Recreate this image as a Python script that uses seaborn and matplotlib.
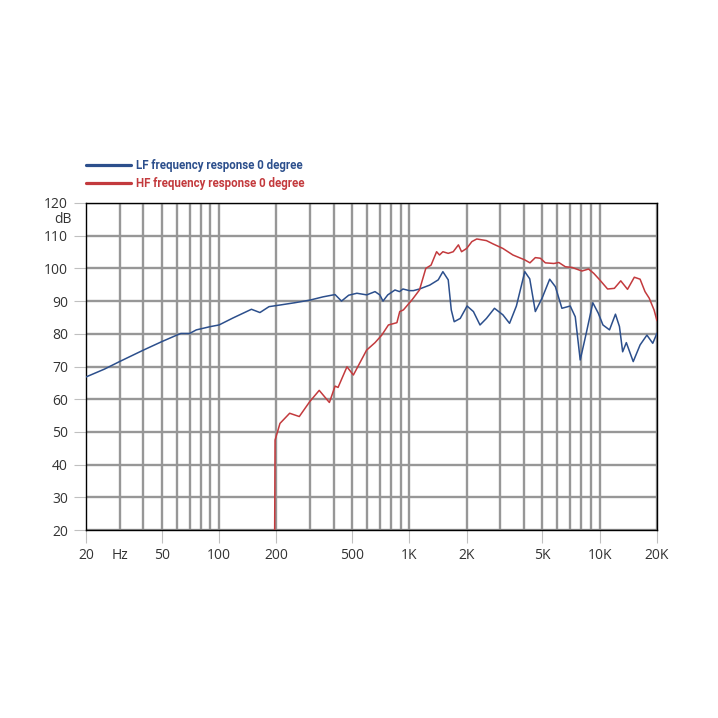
import numpy as np
import pandas as pd
import matplotlib
matplotlib.use("Agg")
import matplotlib.pyplot as plt
from matplotlib.lines import Line2D
import seaborn as sns

# LF curve (Hz, dB)
lf_freq = [20, 25, 30, 40, 50, 60, 63, 70, 76, 90, 100, 118, 148, 164, 183, 209, 250, 300,
           352, 407, 440, 480, 530, 597, 660, 699, 727, 770, 840, 888, 925, 1000, 1050, 1130,
           1280, 1418, 1500, 1600, 1660, 1720, 1850, 2010, 2170, 2350, 2540, 2800, 3100, 3360,
           3650, 4040, 4290, 4590, 4980, 5460, 5850, 6330, 7000, 7440, 7900, 8500, 9200, 9830,
           10400, 11260, 12100, 12700, 13200, 13800, 15000, 16300, 17700, 19000, 20000]
lf_db = [66.8, 69.2, 71.5, 75.0, 77.6, 79.6, 80.1, 80.1, 81.2, 82.2, 82.7, 84.8, 87.5, 86.5,
         88.3, 88.8, 89.5, 90.3, 91.3, 92.0, 90.0, 91.8, 92.4, 91.9, 92.9, 91.9, 90.0, 91.9,
         93.4, 92.9, 93.7, 93.2, 93.2, 93.7, 94.9, 96.5, 99.0, 96.5, 87.3, 83.7, 84.7, 88.5,
         86.8, 82.7, 84.7, 87.8, 85.8, 83.2, 88.5, 99.0, 96.8, 86.8, 90.9, 96.7, 94.4, 87.8,
         88.5, 85.2, 72.0, 80.2, 89.5, 86.3, 82.7, 81.2, 86.0, 82.2, 74.5, 77.3, 71.5, 76.6,
         79.6, 77.1, 80.2]

# HF curve (Hz, dB)
hf_freq = [196, 197, 209, 235, 264, 300, 336, 380, 407, 422, 470, 508, 596, 660, 716, 776,
           860, 890, 930, 1030, 1130, 1220, 1300, 1390, 1440, 1500, 1600, 1700, 1810, 1880,
           2000, 2130, 2260, 2540, 2750, 3100, 3500, 4040, 4300, 4590, 4880, 5180, 5740, 6100,
           6600, 7150, 8060, 8740, 9300, 10000, 11000, 11940, 12900, 14000, 15200, 16300,
           17300, 18200, 19300, 20000]
hf_db = [20.0, 47.5, 52.6, 55.7, 54.7, 59.3, 62.7, 59.0, 64.0, 63.6, 69.9, 67.4, 75.0, 77.3,
         79.6, 82.7, 83.4, 86.8, 87.3, 90.3, 93.4, 100.0, 101.0, 105.1, 104.1, 105.1, 104.6,
         105.1, 107.2, 105.1, 106.1, 108.2, 109.0, 108.5, 107.5, 106.1, 104.1, 102.6, 101.7,
         103.3, 103.1, 101.7, 101.5, 101.8, 100.5, 100.3, 99.2, 99.8, 98.5, 96.5, 93.7, 93.9,
         96.2, 93.6, 97.3, 96.7, 92.9, 90.9, 87.3, 84.0]

x_major = [20, 30, 50, 100, 200, 500, 1000, 2000, 5000, 10000, 20000]
x_labels = ["20", "Hz", "50", "100", "200", "500", "1K", "2K", "5K", "10K", "20K"]
x_minor = [40, 60, 70, 80, 90, 300, 400, 600, 700, 800, 900,
           3000, 4000, 6000, 7000, 8000, 9000]
y_ticks = list(range(20, 130, 10))

blue = "#2c4f8c"
red = "#c33a3d"

sns.set_style("white")
plt.rcParams["font.family"] = ["Open Sans", "DejaVu Sans"]

lf = pd.DataFrame({"freq": lf_freq, "db": lf_db})
hf = pd.DataFrame({"freq": hf_freq, "db": hf_db})

fig = plt.figure(figsize=(7.18, 7.18), dpi=100)
ax = fig.add_axes([86 / 718, 1 - 530 / 718, 571 / 718, 327 / 718])

sns.lineplot(data=lf, x="freq", y="db", ax=ax, color=blue, lw=1.1, sort=False, zorder=3)
sns.lineplot(data=hf, x="freq", y="db", ax=ax, color=red, lw=1.1, sort=False, zorder=3)

ax.set_xscale("log")
ax.set_xlim(20, 20000)
ax.set_ylim(20, 120)
ax.set_xticks(x_major)
ax.set_xticklabels(x_labels)
ax.set_xticks(x_minor, minor=True)
ax.set_xticklabels([], minor=True)
ax.set_yticks(y_ticks)
ax.set_xlabel("")
ax.set_ylabel("")

ax.grid(True, which="both", color="#979797", lw=1.7, zorder=0)
ax.set_axisbelow(True)
ax.tick_params(which="major", length=9, width=0.8, color="#c0c0c0", pad=4,
               labelsize=10, labelcolor="#333333", bottom=True, left=True)
ax.tick_params(which="minor", length=0)
# "Hz" sits in the tick row without a tick mark
ax.xaxis.get_major_ticks()[1].tick1line.set_visible(False)
ax.xaxis.get_major_ticks()[0].gridline.set_visible(False)

for s in ax.spines.values():
    s.set_color("black")
    s.set_linewidth(1.0)

ax.text(-14 / 571, 115, "dB", transform=ax.get_yaxis_transform(), ha="right", va="center",
        fontsize=10, color="#333333")

# legend above the plot
for y, col, txt in [(165, blue, "LF frequency response 0 degree"),
                    (183, red, "HF frequency response 0 degree")]:
    fy = 1 - y / 718
    fig.add_artist(Line2D([86 / 718, 131 / 718], [fy, fy], color=col, lw=2.3))
    fig.text(136 / 718, fy, txt, color=col, fontsize=8.3, fontweight="bold",
             fontstretch="condensed", family=["Roboto", "DejaVu Sans"],
             va="center", ha="left")

fig.savefig("out.png", dpi=100)
